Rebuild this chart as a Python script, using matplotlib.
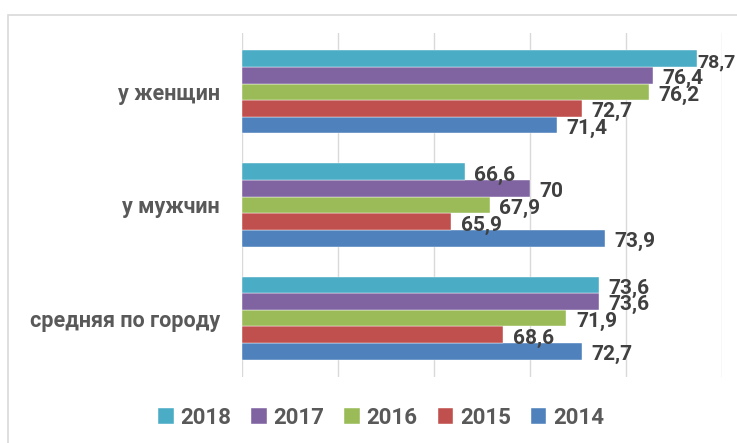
"""
horizontal grouped bars: values by group for the years 2014-2018
saves out.png
"""

import matplotlib.pyplot as plt
from matplotlib.patches import Rectangle

plt.rcParams["font.family"] = ["Roboto", "DejaVu Sans"]

# groups from bottom to top (matplotlib puts y=0 at the bottom)
groups = ["средняя по городу", "у мужчин", "у женщин"]
years = ["2014", "2015", "2016", "2017", "2018"]

# one list per year, same order as groups
v2014 = [72.7, 73.9, 71.4]
v2015 = [68.6, 65.9, 72.7]
v2016 = [71.9, 67.9, 76.2]
v2017 = [73.6, 70.0, 76.4]
v2018 = [73.6, 66.6, 78.7]
series = [v2014, v2015, v2016, v2017, v2018]

colors = ["#4F81BD", "#C0504D", "#9BBB59", "#8064A2", "#4BACC6"]

x_min, x_max = 55, 80
bar_h = 0.147

fig = plt.figure(figsize=(7.37, 4.43), dpi=100)
ax = fig.add_axes([242 / 737, 66 / 443, 480 / 737, 344 / 443])

# light frame round the chart like the office chart area
frame = Rectangle((8 / 737, -0.2), 1.2, 1.2 - 15 / 443,
                  transform=fig.transFigure, fill=False,
                  edgecolor="#d9d9d9", linewidth=1.2, zorder=0)
fig.patches.append(frame)

handles = []
for i, (vals, year, col) in enumerate(zip(series, years, colors)):
    ys = [g + (i - 2) * bar_h for g in range(len(groups))]
    bars = ax.barh(ys, [v - x_min for v in vals], left=x_min, height=bar_h,
                   color=col, edgecolor="white", linewidth=0.3, zorder=3)
    handles.append(bars)
    for y, v in zip(ys, vals):
        label = f"{v:g}".replace(".", ",")
        # the longest bar has no room on the right, so its label sits tight
        pad = 0.0 if v > 78 else 0.5
        size = 14 if v > 78 else 15
        ax.text(v + pad, y - 0.03, label, va="center", ha="left",
                fontsize=size, fontweight="bold", color="#404040",
                clip_on=False, zorder=4)

ax.set_xlim(x_min, x_max)
ax.set_ylim(-0.52, 2.52)
ax.set_xticks(range(x_min, x_max + 1, 5))
ax.set_xticklabels([])
ax.set_yticks(range(len(groups)))
ax.set_yticklabels(groups, fontsize=15.5, fontweight="bold", color="#595959")
ax.tick_params(axis="both", length=0)
ax.tick_params(axis="y", pad=16)
ax.grid(axis="x", color="#d9d9d9", linewidth=1, zorder=0)
for side in ax.spines.values():
    side.set_visible(False)

# legend goes 2018 first, like the reference
leg = fig.legend(handles[::-1], years[::-1], loc="center", ncol=5,
                 bbox_to_anchor=(381 / 737, 1 - 418 / 443), frameon=False,
                 handlelength=0.7, handleheight=0.7, handletextpad=0.3,
                 columnspacing=0.9, prop={"size": 16, "weight": "bold"})
for t in leg.get_texts():
    t.set_color("#595959")

fig.savefig("out.png", dpi=100)
